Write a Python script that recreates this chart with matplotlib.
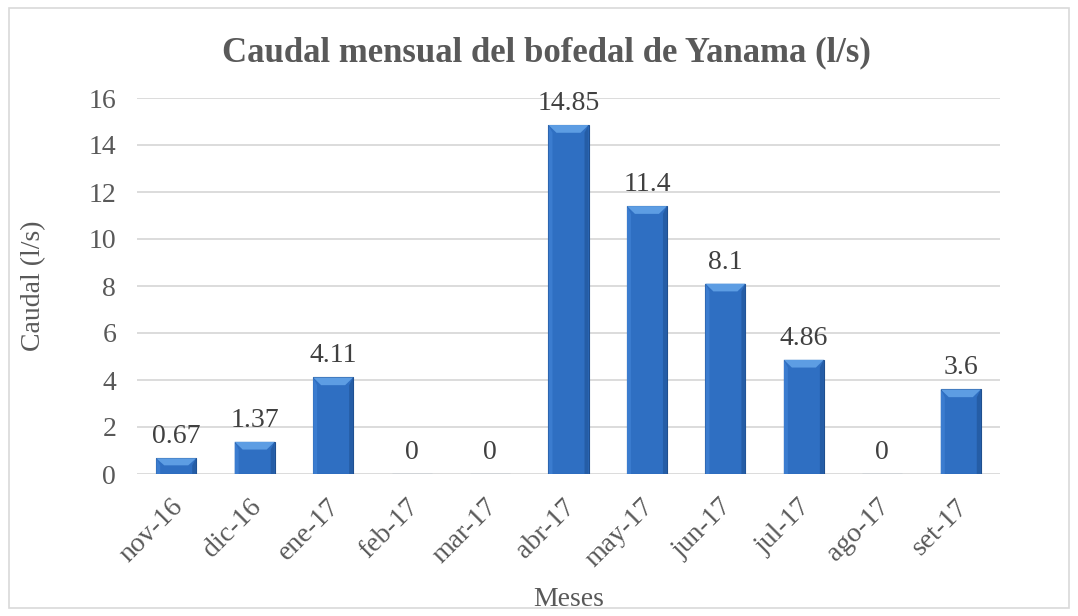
import matplotlib
matplotlib.use("Agg")
import matplotlib.pyplot as plt
import matplotlib.transforms as mtransforms
from matplotlib.patches import Polygon, Rectangle

categories = ["nov-16", "dic-16", "ene-17", "feb-17", "mar-17", "abr-17",
              "may-17", "jun-17", "jul-17", "ago-17", "set-17"]
values = [0.67, 1.37, 4.11, 0, 0, 14.85, 11.4, 8.1, 4.86, 0, 3.6]
labels = ["0.67", "1.37", "4.11", "0", "0", "14.85", "11.4", "8.1", "4.86", "0", "3.6"]
yticks = [0, 2, 4, 6, 8, 10, 12, 14, 16]

plt.rcParams['font.family'] = ['Liberation Serif', 'DejaVu Serif']

fig = plt.figure(figsize=(10.78, 6.16), dpi=100)
# plot area: x 137..1000 px, y 98..474 px
ax = fig.add_axes([137/1078, 1 - 474/616, (1000-137)/1078, (474-98)/616])

fig.patches.append(Rectangle((9/1078, 8/616), (1069-9)/1078, (608-8)/616, transform=fig.transFigure,
                             fill=False, edgecolor='#d9d9d9', linewidth=1.2))

x = list(range(len(categories)))
w = 0.51
bars = ax.bar(x, values, width=w, color='#2f6fc2', edgecolor='#1f4f8f',
              linewidth=0.8, zorder=3)

# bevel highlight at top of each bar (derived from data)
for b in bars:
    h = b.get_height()
    if h <= 0:
        continue
    x0 = b.get_x(); x1 = x0 + b.get_width()
    bev_x = b.get_width() * 0.2
    bev_y = min(0.33, h * 0.45)
    ax.add_patch(Polygon([(x0, h), (x1, h), (x1 - bev_x, h - bev_y), (x0 + bev_x, h - bev_y)],
                         closed=True, facecolor='#5d9de3', edgecolor='none', zorder=4))
    ax.add_patch(Polygon([(x0, 0), (x0, h), (x0 + bev_x * 0.5, h - bev_y), (x0 + bev_x * 0.5, 0)],
                         closed=True, facecolor='#3b7ccf', edgecolor='none', zorder=4))
    ax.add_patch(Polygon([(x1, 0), (x1, h), (x1 - bev_x * 0.5, h - bev_y), (x1 - bev_x * 0.5, 0)],
                         closed=True, facecolor='#255da6', edgecolor='none', zorder=4))

for xi, v, lab in zip(x, values, labels):
    ax.text(xi, v + 0.38, lab, ha='center', va='bottom', fontsize=20, color='#404040', zorder=5)

ax.set_xlim(-0.5, len(categories) - 0.5)
ax.set_ylim(0, 16)
ax.set_yticks(yticks)
ax.set_yticklabels([str(t) for t in yticks], fontsize=20, color='#595959')
ax.set_xticks(x)
ax.set_xticklabels([])
label_tr = ax.get_xaxis_transform() + mtransforms.ScaledTranslation(0.03, -0.29, fig.dpi_scale_trans)
for xi, cat in zip(x, categories):
    ax.text(xi, 0, cat, transform=label_tr, rotation=45, ha='right', va='center',
            rotation_mode='anchor', fontsize=20, color='#595959', clip_on=False)
ax.tick_params(axis='y', length=0, pad=15)
ax.tick_params(axis='x', length=0)
ax.grid(axis='y', color='#d9d9d9', linewidth=1.3, zorder=0)
ax.set_axisbelow(True)
for s in ax.spines.values():
    s.set_visible(False)

ax.set_ylabel("Caudal (l/s)", fontsize=20, color='#595959')
ax.yaxis.set_label_coords(34/1078, 0.5 * (616 - 98 + 616 - 474) / 616, transform=fig.transFigure)
ax.set_xlabel("Meses", fontsize=20, color='#595959')
ax.xaxis.set_label_coords(569/1078, 1 - 600/616, transform=fig.transFigure)
ax.xaxis.label.set_va('center')
ax.yaxis.label.set_va('center')
fig.text(546/1078, 1 - 53/616, "Caudal mensual del bofedal de Yanama (l/s)", fontsize=25,
         fontweight='bold', color='#595959', ha='center', va='center')

fig.savefig("out.png", dpi=100)
